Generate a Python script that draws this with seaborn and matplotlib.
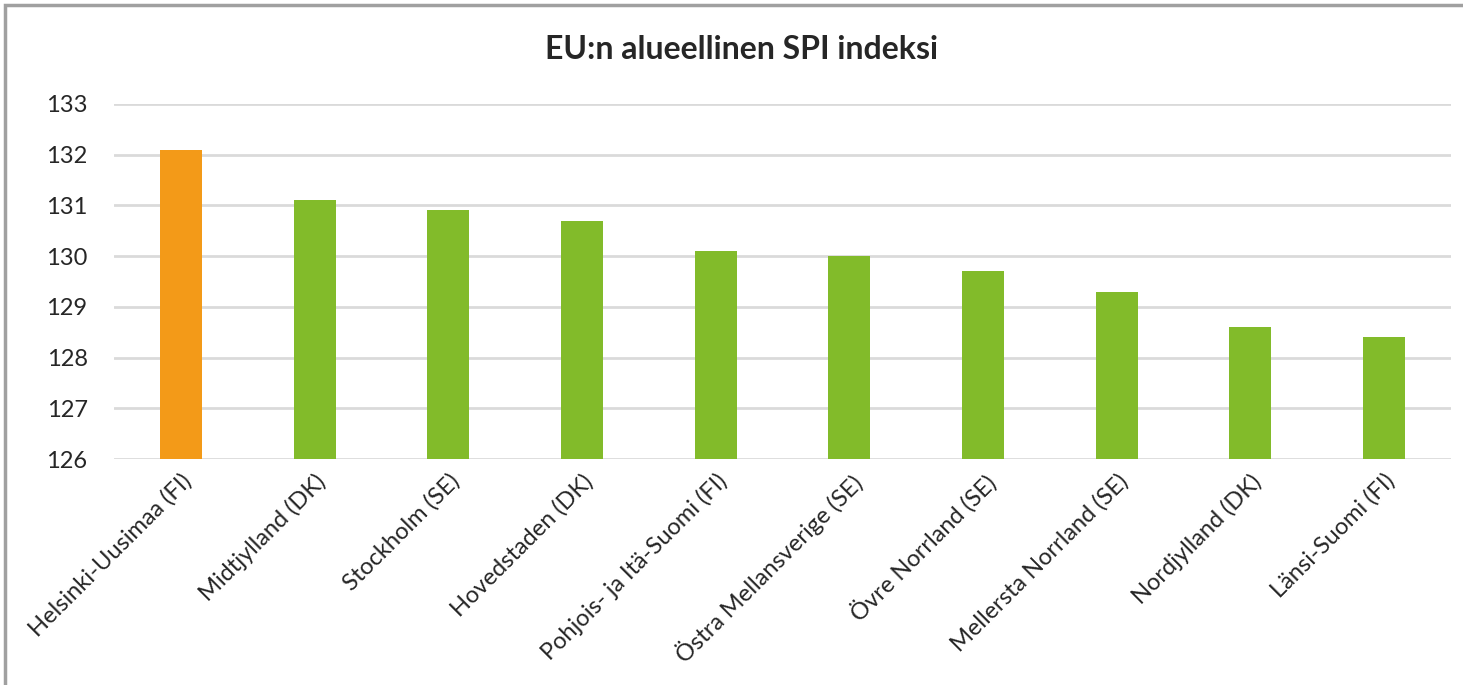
import pandas as pd
import matplotlib.pyplot as plt
import seaborn as sns
from matplotlib.patches import Rectangle

sns.set_style("white")
plt.rcParams["font.family"] = ["Lato", "DejaVu Sans"]

# Data
regions = [
    "Helsinki-Uusimaa (FI)", "Midtjylland (DK)", "Stockholm (SE)",
    "Hovedstaden (DK)", "Pohjois- ja Itä-Suomi (FI)", "Östra Mellansverige (SE)",
    "Övre Norrland (SE)", "Mellersta Norrland (SE)", "Nordjylland (DK)",
    "Länsi-Suomi (FI)",
]
spi = [132.1, 131.1, 130.9, 130.7, 130.1, 130.0, 129.7, 129.3, 128.6, 128.4]
highlight = ["yes", "no", "no", "no", "no", "no", "no", "no", "no", "no"]

df = pd.DataFrame({"Region": regions, "SPI": spi, "Highlight": highlight})
palette = {"yes": "#F39A18", "no": "#82BB2A"}

fig = plt.figure(figsize=(14.63, 6.85), dpi=100)
ax = fig.add_axes([0.0779, 0.3299, 0.9139, 0.5183])

sns.barplot(data=df, x="Region", y="SPI", hue="Highlight", palette=palette,
            saturation=1, dodge=False, width=0.314, legend=False, ax=ax,
            zorder=3)
for p in ax.patches:
    p.set_edgecolor("none")

ax.set_ylim(126, 133)
ax.set_xlim(-0.5, len(regions) - 0.5)
ax.set_yticks(range(126, 134))
ax.yaxis.grid(True, color="#DADADA", linewidth=2, zorder=0)
ax.set_axisbelow(True)
for s in ax.spines.values():
    s.set_visible(False)
ax.set_xlabel("")
ax.set_ylabel("")
ax.tick_params(axis="y", length=0, pad=19, labelsize=17, colors="#262626")
ax.tick_params(axis="x", length=0, pad=8, labelsize=17, colors="#262626")
plt.setp(ax.get_xticklabels(), rotation=45, ha="right", rotation_mode="anchor")

fig.text(0.507, 0.928, "EU:n alueellinen SPI indeksi", ha="center", va="center",
         fontsize=23, fontweight="bold", color="#262626")

# outer frame
fig.patches.append(Rectangle((5 / 1463, -0.1), 1.2, 1 - 5 / 685 + 0.1,
                             transform=fig.transFigure, fill=False,
                             edgecolor="#A0A0A0", linewidth=2.5))

fig.savefig("out.png", dpi=100)
plt.close(fig)
